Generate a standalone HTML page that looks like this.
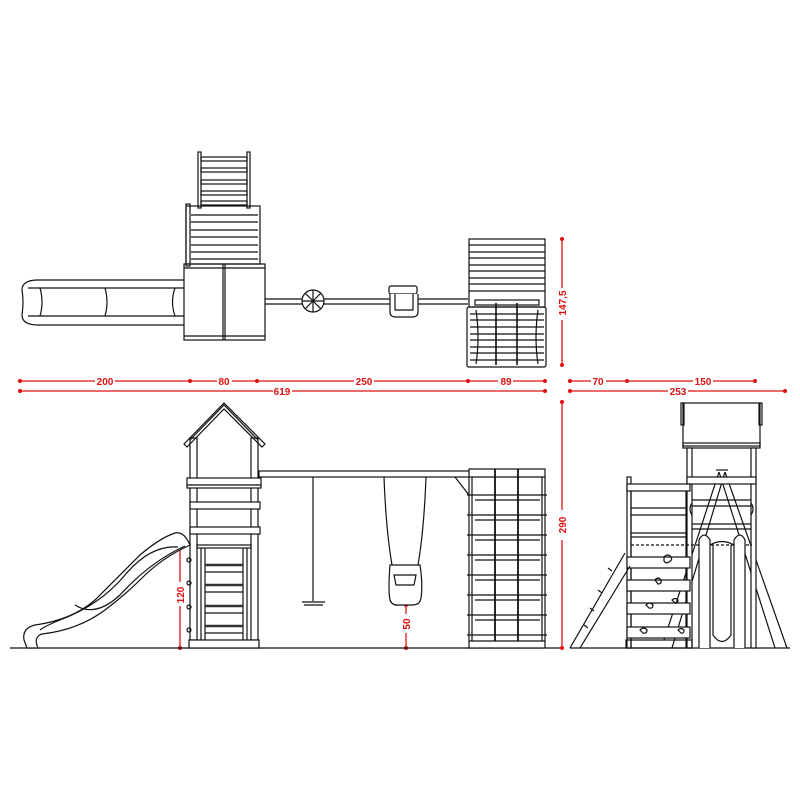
<!DOCTYPE html>
<html><head><meta charset="utf-8"><style>
html,body{margin:0;padding:0;background:#fff;width:800px;height:800px;overflow:hidden}
svg{display:block}
.k{fill:none;stroke:#111;stroke-width:1.2}
.r{stroke:#e01010;stroke-width:1.3;fill:none}
.rd{fill:#e01010}
text{font-family:"Liberation Sans",sans-serif;font-size:10px;fill:#e01010;font-weight:bold}
</style></head><body>
<svg width="800" height="800" viewBox="0 0 800 800">
<!-- ===== TOP VIEW ===== -->
<g class="k">
<rect x="198" y="152" width="3" height="56"/><rect x="247" y="152" width="3" height="56"/>
<rect x="201" y="157" width="46" height="4"/><rect x="201" y="168" width="46" height="4"/>
<rect x="201" y="180" width="46" height="4"/><rect x="201" y="191" width="46" height="4"/>
<rect x="201" y="201" width="46" height="4"/>
<rect x="186" y="206" width="74" height="58"/>
<rect x="186" y="204" width="4" height="62"/>
<line x1="191" y1="215" x2="258" y2="215"/><line x1="191" y1="222" x2="258" y2="222"/>
<line x1="191" y1="230" x2="258" y2="230"/><line x1="191" y1="237" x2="258" y2="237"/>
<line x1="191" y1="245" x2="258" y2="245"/><line x1="191" y1="252" x2="258" y2="252"/>
<line x1="191" y1="259" x2="258" y2="259"/>
<rect x="184" y="264" width="81" height="76"/>
<line x1="184" y1="268" x2="265" y2="268"/><line x1="184" y1="336" x2="265" y2="336"/>
<line x1="223" y1="264" x2="223" y2="340"/><line x1="225" y1="264" x2="225" y2="340"/>
<path d="M184 280 L38 280 Q22 280 22 290 Q24 302 22 315 Q22 325 38 325 L184 325"/>
<line x1="28" y1="288" x2="184" y2="288"/><line x1="28" y1="316" x2="184" y2="316"/>
<path d="M40 288 Q44 302 40 316"/><path d="M105 288 Q109 302 105 316"/><path d="M175 288 Q170 302 175 316"/>
<line x1="265" y1="299" x2="468" y2="299"/><line x1="265" y1="304" x2="468" y2="304"/>
<circle cx="313" cy="301" r="11" fill="#fff"/>
<line x1="302" y1="301" x2="324" y2="301"/><line x1="313" y1="290" x2="313" y2="312"/>
<line x1="305" y1="293" x2="321" y2="309"/><line x1="321" y1="293" x2="305" y2="309"/>
<rect x="389" y="286" width="28" height="8" rx="2" fill="#fff"/>
<path d="M390 294 L390 312 Q390 317 396 317 L412 317 Q418 317 418 312 L418 294" fill="#fff"/>
<path d="M395 294 L395 310 L413 310 L413 294"/>
<rect x="469" y="239" width="76" height="68"/>
<line x1="469" y1="245" x2="545" y2="245"/><line x1="469" y1="252" x2="545" y2="252"/>
<line x1="469" y1="258" x2="545" y2="258"/><line x1="469" y1="265" x2="545" y2="265"/>
<line x1="469" y1="271" x2="545" y2="271"/><line x1="469" y1="278" x2="545" y2="278"/>
<line x1="469" y1="284" x2="545" y2="284"/><line x1="469" y1="291" x2="545" y2="291"/>
<rect x="475" y="300" width="64" height="5"/>
<rect x="467" y="307" width="79" height="60" rx="2"/>
<line x1="496" y1="303" x2="496" y2="365" stroke-width="1.6"/><line x1="517" y1="303" x2="517" y2="365" stroke-width="1.6"/>
</g>
<g class="k" stroke-width="1.6">
<path d="M470 314 H544 M470 320 H544 M470 327 H544 M470 334 H544 M470 340 H544 M470 347 H544 M470 353 H544 M470 360 H544"/>
<path d="M476 310 Q480 338 476 364 M538 310 Q534 338 538 364"/>
</g>
<!-- ===== DIMENSIONS ===== -->
<g class="r">
<line x1="20" y1="381" x2="95" y2="381"/><line x1="115" y1="381" x2="190" y2="381"/>
<line x1="190" y1="381" x2="217" y2="381"/><line x1="232" y1="381" x2="257" y2="381"/>
<line x1="257" y1="381" x2="354" y2="381"/><line x1="374" y1="381" x2="468" y2="381"/>
<line x1="468" y1="381" x2="498" y2="381"/><line x1="513" y1="381" x2="545" y2="381"/>
<line x1="20" y1="391" x2="273" y2="391"/><line x1="292" y1="391" x2="545" y2="391"/>
<line x1="570" y1="381" x2="591" y2="381"/><line x1="606" y1="381" x2="627" y2="381"/>
<line x1="627" y1="381" x2="693" y2="381"/><line x1="713" y1="381" x2="755" y2="381"/>
<line x1="570" y1="391" x2="668" y2="391"/><line x1="688" y1="391" x2="785" y2="391"/>
<line x1="562" y1="239" x2="562" y2="288"/><line x1="562" y1="320" x2="562" y2="365"/>
<line x1="562" y1="402" x2="562" y2="510"/><line x1="562" y1="540" x2="562" y2="648"/>
<line x1="180" y1="545" x2="180" y2="582"/><line x1="180" y1="606" x2="180" y2="648"/>
<line x1="406" y1="605" x2="406" y2="614"/><line x1="406" y1="633" x2="406" y2="648"/>
</g>
<g class="rd">
<circle cx="20" cy="381" r="2"/><circle cx="190" cy="381" r="2"/><circle cx="257" cy="381" r="2"/><circle cx="468" cy="381" r="2"/><circle cx="545" cy="381" r="2"/>
<circle cx="20" cy="391" r="2"/><circle cx="545" cy="391" r="2"/>
<circle cx="570" cy="381" r="2"/><circle cx="627" cy="381" r="2"/><circle cx="755" cy="381" r="2"/>
<circle cx="570" cy="391" r="2"/><circle cx="785" cy="391" r="2"/>
<circle cx="562" cy="239" r="2"/><circle cx="562" cy="365" r="2"/><circle cx="562" cy="402" r="2"/><circle cx="562" cy="648" r="2"/>
<circle cx="180" cy="545" r="2"/><circle cx="180" cy="648" r="2"/><circle cx="406" cy="605" r="2"/><circle cx="406" cy="648" r="2"/>
</g>
<text x="105" y="385" text-anchor="middle">200</text>
<text x="224" y="385" text-anchor="middle">80</text>
<text x="364" y="385" text-anchor="middle">250</text>
<text x="506" y="385" text-anchor="middle">89</text>
<text x="282" y="395" text-anchor="middle">619</text>
<text x="598" y="385" text-anchor="middle">70</text>
<text x="703" y="385" text-anchor="middle">150</text>
<text x="678" y="395" text-anchor="middle">253</text>
<text transform="translate(566,303) rotate(-90)" text-anchor="middle">147,5</text>
<text transform="translate(566,525) rotate(-90)" text-anchor="middle">290</text>
<text transform="translate(184,595) rotate(-90)" text-anchor="middle">120</text>
<text transform="translate(410,624) rotate(-90)" text-anchor="middle">50</text>
<!-- ===== FRONT VIEW ===== -->
<line x1="10" y1="648" x2="560" y2="648" stroke="#111" stroke-width="1.2"/>
<line x1="570" y1="648" x2="790" y2="648" stroke="#111" stroke-width="1.2"/>
<g class="k">
<path d="M184 444 L224 403 L265 444 L262 447 L224 409 L187 447 Z" fill="#fff"/>
<path d="M190 440 L224 405 L258 440"/>
<rect x="190" y="438" width="7" height="202"/><rect x="251" y="438" width="7" height="202"/>
<rect x="187" y="478" width="74" height="7" fill="#fff"/><rect x="187" y="485" width="74" height="3" fill="#fff"/>
<rect x="190" y="502" width="70" height="7" fill="#fff"/>
<rect x="190" y="527" width="70" height="7" fill="#fff"/>
<rect x="197" y="545" width="54" height="3"/>
<rect x="189" y="640" width="70" height="8" fill="#fff"/>
<line x1="201" y1="548" x2="201" y2="640"/><line x1="205" y1="548" x2="205" y2="640"/>
<line x1="243" y1="548" x2="243" y2="640"/><line x1="247" y1="548" x2="247" y2="640"/>
</g>
<g stroke="#333" stroke-width="2.5">
<line x1="205" y1="565" x2="243" y2="565"/><line x1="205" y1="585" x2="243" y2="585"/>
<line x1="205" y1="606" x2="243" y2="606"/><line x1="205" y1="626" x2="243" y2="626"/>
</g>
<g class="k">
<line x1="205" y1="572" x2="243" y2="572"/><line x1="205" y1="592" x2="243" y2="592"/>
<line x1="205" y1="613" x2="243" y2="613"/><line x1="205" y1="633" x2="243" y2="633"/>
<circle cx="189" cy="560" r="2"/><circle cx="189" cy="583" r="2"/><circle cx="189" cy="607" r="2"/><circle cx="189" cy="630" r="2"/>
<!-- slide -->
<path d="M190 545 Q184 531 175 533 Q160 538 140 555 Q110 585 95 600 Q72 620 35 625 Q22 628 24 640 L27 648 L38 648 Q33 637 42 634 Q78 630 105 610 Q125 595 142 578 Q162 558 188 546 Z" fill="#fff"/>
<path d="M178 547 Q150 545 125 575 Q100 605 60 620 Q45 626 40 630"/>
<path d="M185 546 Q150 562 120 595 Q95 618 75 605"/>
<!-- beam -->
<rect x="259" y="471" width="211" height="6" fill="#fff"/>
<line x1="313" y1="477" x2="313" y2="601"/>
<path d="M302 602 H325 M304 605 H323"/>
<path d="M384 477 Q386 530 392 565 M426 477 Q424 530 418 565"/>
<path d="M390 565 Q388 590 390 600 Q392 606 400 605 L412 605 Q420 605 421 598 Q423 585 420 565 Z" fill="#fff"/>
<path d="M394 575 L416 575 L414 585 L396 585 Z"/>
<rect x="469" y="469" width="76" height="179" fill="#fff"/>
<line x1="469" y1="477" x2="545" y2="477"/><line x1="469" y1="641" x2="545" y2="641"/>
<line x1="495" y1="469" x2="495" y2="641" stroke-width="1.8"/><line x1="518" y1="469" x2="518" y2="641" stroke-width="1.8"/>
<line x1="472" y1="477" x2="472" y2="641"/><line x1="542" y1="477" x2="542" y2="641"/>
<path d="M455 477 L469 495"/>
</g>
<g class="k" stroke-width="2">
<path d="M467 495 H547 M467 515 H547 M467 535 H547 M467 555 H547 M467 575 H547 M467 595 H547 M467 615 H547 M467 635 H547"/>
</g>
<g class="k">
<path d="M475 500 H540 M475 520 H540 M475 540 H540 M475 560 H540 M475 580 H540 M475 600 H540 M475 620 H540"/>
</g>
<!-- ===== SIDE VIEW ===== -->
<g class="k">
<!-- A frame legs -->
<path d="M719 472 L664 640 M725 472 L672 648"/>
<path d="M719 472 L775 648 M725 472 L787 648"/>
<path d="M716 470 L728 470"/>
<rect x="683" y="403" width="77" height="43" fill="#fff"/>
<rect x="681" y="403" width="3" height="22"/><rect x="759" y="403" width="3" height="22"/>
<rect x="683" y="443" width="77" height="5"/>
<rect x="687" y="448" width="5" height="200" fill="#fff"/><rect x="751" y="448" width="5" height="200" fill="#fff"/>
<rect x="687" y="477" width="69" height="7" fill="#fff"/>
<line x1="692" y1="500" x2="751" y2="500"/><line x1="692" y1="506" x2="751" y2="506"/>
<line x1="692" y1="524" x2="751" y2="524"/><line x1="692" y1="529" x2="751" y2="529"/>
<path d="M692 503 q-4 6 0 12 M751 503 q4 6 0 12"/>
<!-- left platform -->
<rect x="627" y="477" width="4" height="171" fill="#fff"/>
<rect x="627" y="484" width="63" height="7" fill="#fff"/>
<line x1="631" y1="491" x2="631" y2="648"/><line x1="686" y1="491" x2="686" y2="648"/>
<line x1="631" y1="508" x2="686" y2="508"/><line x1="631" y1="515" x2="686" y2="515"/>
<line x1="631" y1="533" x2="686" y2="533"/><line x1="631" y1="537" x2="686" y2="537"/>
<line x1="631" y1="545" x2="752" y2="545" stroke-dasharray="3 2"/>
<rect x="627" y="557" width="63" height="11" fill="#fff"/><rect x="627" y="580" width="63" height="11" fill="#fff"/>
<rect x="627" y="603" width="63" height="11" fill="#fff"/><rect x="627" y="627" width="63" height="11" fill="#fff"/>
<rect x="626" y="640" width="66" height="8"/>
<path d="M570 648 L625 553 M580 648 L630 566"/>
<path d="M608 568 l4 3 M598 590 l4 3 M590 608 l4 3 M584 625 l4 3"/>
<path d="M664 557 q4 -4 7 0 q2 3 -2 5 q-3 2 -5 -1 z M655 580 q3 -4 6 0 q1 4 -3 4 z M646 605 q4 -4 7 0 q0 4 -4 3 z M672 600 q3 -3 6 0 q0 4 -3 3 z M640 630 q4 -4 7 0 q0 4 -4 3 z M678 630 q3 -3 6 0 q0 4 -3 3 z"/>
<!-- slide side -->
<path d="M699 648 L699 540 Q704 530 710 540 L710 648" fill="#fff"/>
<path d="M734 648 L734 540 Q740 530 745 540 L745 648" fill="#fff"/>
<path d="M710 545 Q722 538 734 545 M713 545 L713 635 Q722 648 731 635 L731 545"/>
</g>
</svg>
</body></html>
